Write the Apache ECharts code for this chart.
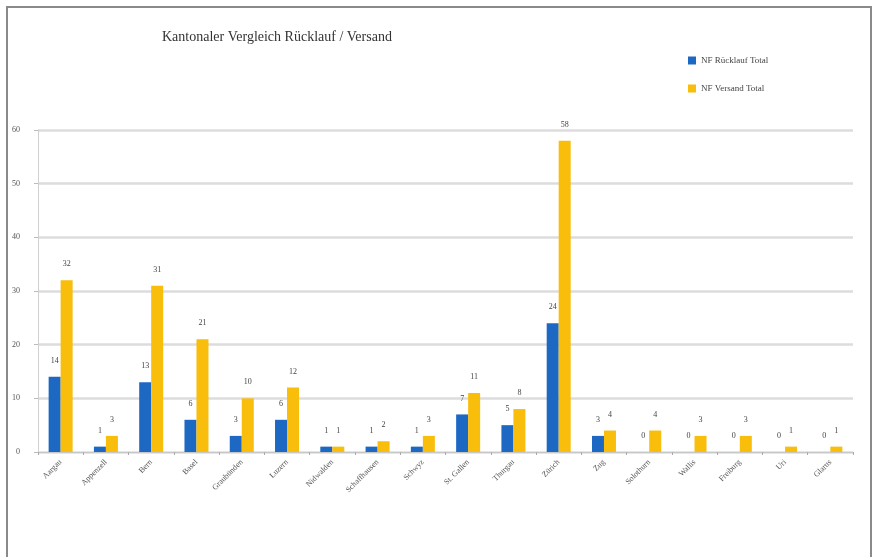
<!DOCTYPE html>
<html>
<head>
<meta charset="utf-8">
<script src="https://cdn.jsdelivr.net/npm/echarts@6/dist/echarts.min.js"></script>
<style>
  html, body { margin: 0; padding: 0; background: #fff; }
  #chart { width: 874px; height: 557px; }
</style>
</head>
<body>
<div id="chart"></div>
<script>
// Kantone, in the order they appear on the category axis
const kantone = ['Aargau', 'Appenzell', 'Bern', 'Basel', 'Graubünden', 'Luzern', 'Nidwalden',
  'Schaffhausen', 'Schwyz', 'St. Gallen', 'Thurgau', 'Zürich', 'Zug', 'Solothurn', 'Wallis',
  'Freiburg', 'Uri', 'Glarus'];

// Rücklauf (returns) per Kanton
const ruecklauf = [14, 1, 13, 6, 3, 6, 1, 1, 1, 7, 5, 24, 3, 0, 0, 0, 0, 0];

// Versand (sent) per Kanton
const versand = [32, 3, 31, 21, 10, 12, 1, 2, 3, 11, 8, 58, 4, 4, 3, 3, 1, 1];

const yTicks = { min: 0, max: 60, interval: 10 };

const serif = 'Liberation Serif';
const chart = echarts.init(document.getElementById('chart'));

const labelStyle = {
  show: true,
  position: 'top',
  distance: 12,
  fontFamily: serif,
  fontSize: 8,
  color: '#444'
};

chart.setOption({
  animation: false,
  textStyle: { fontFamily: serif },
  title: {
    text: 'Kantonaler Vergleich Rücklauf / Versand',
    left: 157,
    top: 25,
    textStyle: { fontFamily: serif, fontSize: 14, fontWeight: 'normal', color: '#333' }
  },
  legend: {
    orient: 'vertical',
    left: 683,
    top: 51,
    itemGap: 19,
    itemWidth: 8,
    itemHeight: 8,
    icon: 'rect',
    textStyle: { fontFamily: serif, fontSize: 9, color: '#444' },
    data: ['NF Rücklauf Total', 'NF Versand Total']
  },
  graphic: [{
    type: 'rect',
    shape: { x: 7, y: 7, width: 864, height: 560 },
    style: { fill: 'none', stroke: '#8a8a8a', lineWidth: 2 },
    silent: true
  }],
  grid: { left: 38, right: 21, top: 130, bottom: 105 },
  xAxis: {
    type: 'category',
    data: kantone,
    axisLine: { lineStyle: { color: '#c8c8c8', width: 1 } },
    axisTick: { show: true, interval: 0, length: 3, lineStyle: { color: '#aaa' } },
    axisLabel: {
      interval: 0,
      rotate: 45,
      fontFamily: serif,
      fontSize: 8,
      color: '#555',
      margin: 9
    }
  },
  yAxis: {
    type: 'value',
    min: yTicks.min,
    max: yTicks.max,
    interval: yTicks.interval,
    axisLine: { show: true, lineStyle: { color: '#d0d0d0' } },
    axisTick: { show: true, length: 4, lineStyle: { color: '#bbb' } },
    axisLabel: { fontFamily: serif, fontSize: 8, color: '#555', margin: 18 },
    splitLine: { lineStyle: { color: '#dcdcdc', width: 2.5 } }
  },
  series: [
    {
      name: 'NF Rücklauf Total',
      type: 'bar',
      data: ruecklauf,
      barWidth: 12,
      barGap: '0%',
      itemStyle: { color: '#1c68c3' },
      label: labelStyle
    },
    {
      name: 'NF Versand Total',
      type: 'bar',
      data: versand,
      barWidth: 12,
      barGap: '0%',
      itemStyle: { color: '#f9bd0c' },
      label: labelStyle
    }
  ]
});
</script>
</body>
</html>
